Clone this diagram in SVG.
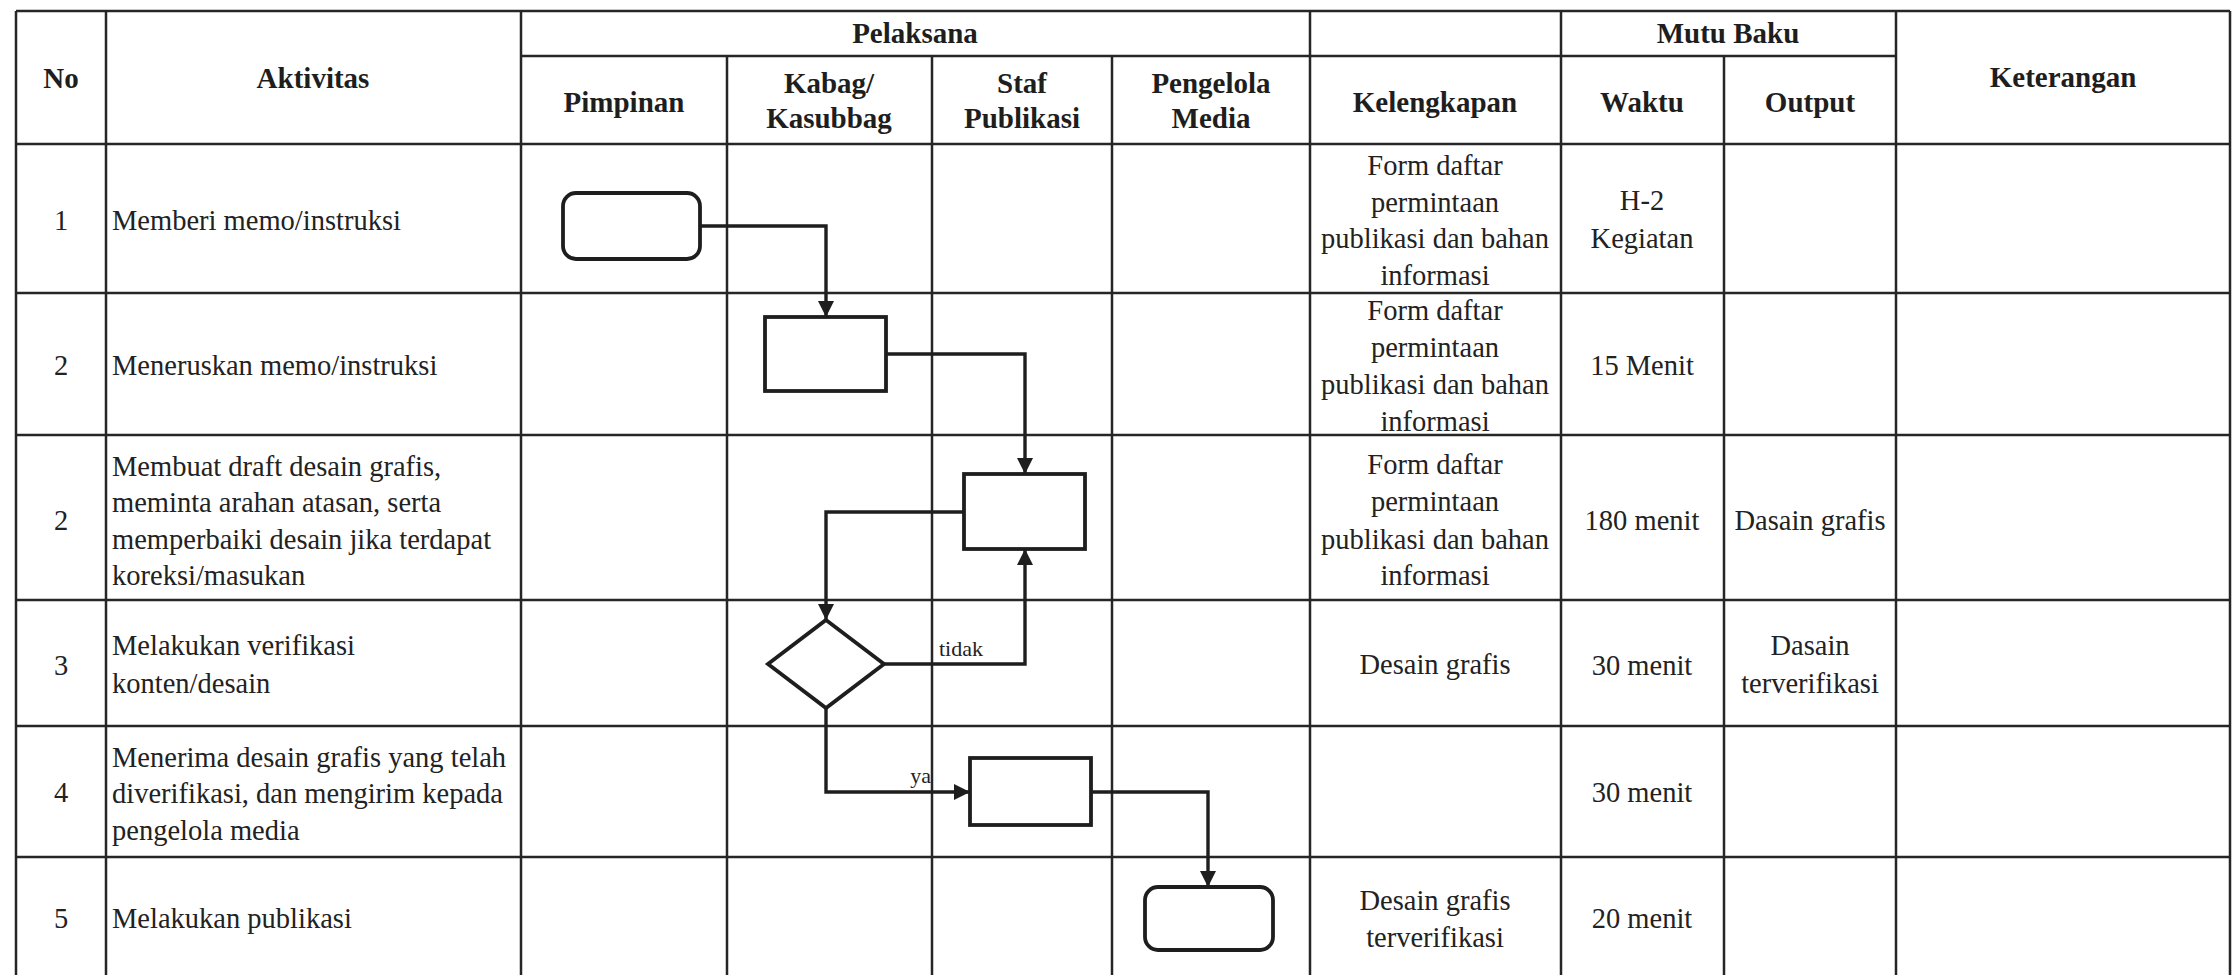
<svg xmlns="http://www.w3.org/2000/svg" width="2236" height="975" viewBox="0 0 2236 975">
  <style>
    .grid line { stroke: #262626; stroke-width: 2.5; }
    .hd { font-family: "Liberation Serif", "Times New Roman", serif; font-weight: bold; font-size: 29px; fill: #1e1e1e; text-anchor: middle; }
    .tx { font-family: "Liberation Serif", "Times New Roman", serif; font-size: 28.5px; fill: #222; }
    .c { text-anchor: middle; }
    .shape { fill: #fff; stroke: #1e1e1e; stroke-width: 3.8; }
    .conn path { fill: none; stroke: #1e1e1e; stroke-width: 3.4; marker-end: url(#arrow); }
    .lbl { font-family: "Liberation Serif", "Times New Roman", serif; font-size: 22px; fill: #222; }
  </style>
  <defs>
    <marker id="arrow" markerUnits="userSpaceOnUse" markerWidth="17" markerHeight="16" refX="16" refY="8" orient="auto">
      <path d="M0,0 L16,8 L0,16 z" fill="#1e1e1e"/>
    </marker>
  </defs>

  <rect x="0" y="0" width="2236" height="975" fill="#fff"/>

  <!-- table grid -->
  <g id="grid" class="grid">
    <line x1="16" y1="11" x2="2230" y2="11"/>
    <line x1="521" y1="56" x2="1896" y2="56"/>
    <line x1="16" y1="144" x2="2230" y2="144"/>
    <line x1="16" y1="293" x2="2230" y2="293"/>
    <line x1="16" y1="435" x2="2230" y2="435"/>
    <line x1="16" y1="600" x2="2230" y2="600"/>
    <line x1="16" y1="726" x2="2230" y2="726"/>
    <line x1="16" y1="857" x2="2230" y2="857"/>
    <line x1="16" y1="11" x2="16" y2="975"/>
    <line x1="106" y1="11" x2="106" y2="975"/>
    <line x1="521" y1="11" x2="521" y2="975"/>
    <line x1="727" y1="56" x2="727" y2="975"/>
    <line x1="932" y1="56" x2="932" y2="975"/>
    <line x1="1112" y1="56" x2="1112" y2="975"/>
    <line x1="1310" y1="11" x2="1310" y2="975"/>
    <line x1="1561" y1="11" x2="1561" y2="975"/>
    <line x1="1724" y1="56" x2="1724" y2="975"/>
    <line x1="1896" y1="11" x2="1896" y2="975"/>
    <line x1="2230" y1="11" x2="2230" y2="975"/>
  </g>

  <!-- column headers -->
  <g id="header">
    <text class="hd" x="61" y="88">No</text>
    <text class="hd" x="313" y="88">Aktivitas</text>
    <text class="hd" x="915" y="43">Pelaksana</text>
    <text class="hd" x="624" y="112">Pimpinan</text>
    <text class="hd" x="829" y="93">Kabag/</text>
    <text class="hd" x="829" y="128">Kasubbag</text>
    <text class="hd" x="1022" y="93">Staf</text>
    <text class="hd" x="1022" y="128">Publikasi</text>
    <text class="hd" x="1211" y="93">Pengelola</text>
    <text class="hd" x="1211" y="128">Media</text>
    <text class="hd" x="1435" y="112">Kelengkapan</text>
    <text class="hd" x="1728" y="43">Mutu Baku</text>
    <text class="hd" x="1642" y="112">Waktu</text>
    <text class="hd" x="1810" y="112">Output</text>
    <text class="hd" x="2063" y="87">Keterangan</text>
  </g>

  <!-- row 1 -->
  <g id="row1" class="tx">
    <text class="c" x="61" y="230">1</text>
    <text x="112" y="230">Memberi memo/instruksi</text>
    <text class="c" x="1435" y="175">Form daftar</text>
    <text class="c" x="1435" y="212">permintaan</text>
    <text class="c" x="1435" y="248">publikasi dan bahan</text>
    <text class="c" x="1435" y="285">informasi</text>
    <text class="c" x="1642" y="210">H-2</text>
    <text class="c" x="1642" y="248">Kegiatan</text>
  </g>

  <!-- row 2 -->
  <g id="row2" class="tx">
    <text class="c" x="61" y="375">2</text>
    <text x="112" y="375">Meneruskan memo/instruksi</text>
    <text class="c" x="1435" y="320">Form daftar</text>
    <text class="c" x="1435" y="357">permintaan</text>
    <text class="c" x="1435" y="394">publikasi dan bahan</text>
    <text class="c" x="1435" y="431">informasi</text>
    <text class="c" x="1642" y="375">15 Menit</text>
  </g>

  <!-- row 3 -->
  <g id="row3" class="tx">
    <text class="c" x="61" y="530">2</text>
    <text x="112" y="476">Membuat draft desain grafis,</text>
    <text x="112" y="512">meminta arahan atasan, serta</text>
    <text x="112" y="549">memperbaiki desain jika terdapat</text>
    <text x="112" y="585">koreksi/masukan</text>
    <text class="c" x="1435" y="474">Form daftar</text>
    <text class="c" x="1435" y="511">permintaan</text>
    <text class="c" x="1435" y="549">publikasi dan bahan</text>
    <text class="c" x="1435" y="585">informasi</text>
    <text class="c" x="1642" y="530">180 menit</text>
    <text class="c" x="1810" y="530">Dasain grafis</text>
  </g>

  <!-- row 4 -->
  <g id="row4" class="tx">
    <text class="c" x="61" y="675">3</text>
    <text x="112" y="655">Melakukan verifikasi</text>
    <text x="112" y="693">konten/desain</text>
    <text class="c" x="1435" y="674">Desain grafis</text>
    <text class="c" x="1642" y="675">30 menit</text>
    <text class="c" x="1810" y="655">Dasain</text>
    <text class="c" x="1810" y="693">terverifikasi</text>
  </g>

  <!-- row 5 -->
  <g id="row5" class="tx">
    <text class="c" x="61" y="802">4</text>
    <text x="112" y="767">Menerima desain grafis yang telah</text>
    <text x="112" y="803">diverifikasi, dan mengirim kepada</text>
    <text x="112" y="840">pengelola media</text>
    <text class="c" x="1642" y="802">30 menit</text>
  </g>

  <!-- row 6 -->
  <g id="row6" class="tx">
    <text class="c" x="61" y="928">5</text>
    <text x="112" y="928">Melakukan publikasi</text>
    <text class="c" x="1435" y="910">Desain grafis</text>
    <text class="c" x="1435" y="947">terverifikasi</text>
    <text class="c" x="1642" y="928">20 menit</text>
  </g>

  <!-- connectors -->
  <g id="connectors" class="conn">
    <path d="M700,226 H826 V317"/>
    <path d="M886,354 H1025 V474"/>
    <path d="M964,512 H826 V620"/>
    <path d="M884,664 H1025 V549"/>
    <path d="M826,708 V792 H970"/>
    <path d="M1091,792 H1208 V887"/>
    <text class="lbl" x="939" y="656">tidak</text>
    <text class="lbl" x="931" y="783" text-anchor="end">ya</text>
  </g>

  <!-- flow nodes -->
  <g id="start">
    <rect class="shape" x="563" y="193" width="137" height="66" rx="13"/>
  </g>
  <g id="forward">
    <rect class="shape" x="765" y="317" width="121" height="74"/>
  </g>
  <g id="draft">
    <rect class="shape" x="964" y="474" width="121" height="75"/>
  </g>
  <g id="verify">
    <polygon class="shape" points="826,620 884,664 826,708 768,664"/>
  </g>
  <g id="send">
    <rect class="shape" x="970" y="758" width="121" height="67"/>
  </g>
  <g id="publish">
    <rect class="shape" x="1145" y="887" width="128" height="63" rx="13"/>
  </g>
</svg>
